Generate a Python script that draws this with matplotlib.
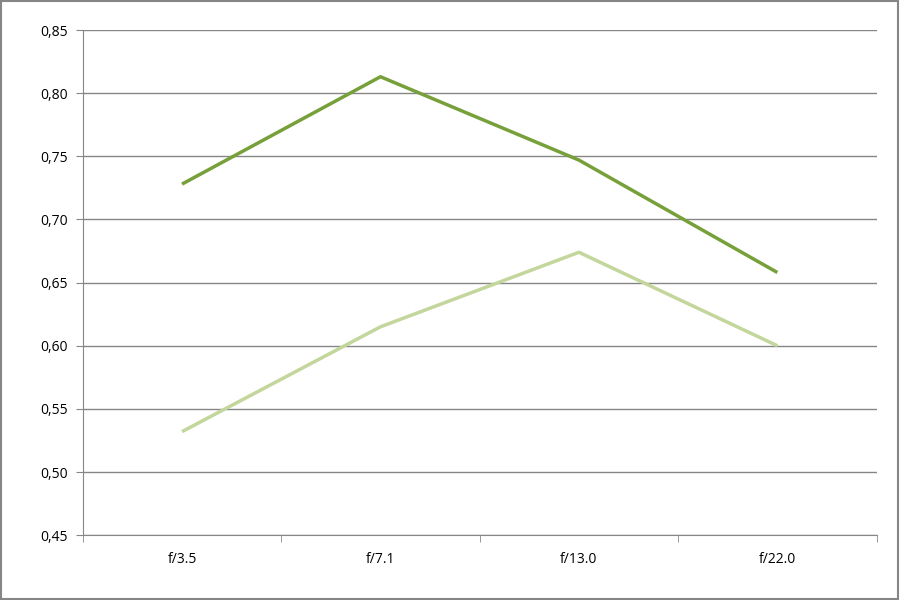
import matplotlib.pyplot as plt
from matplotlib.patches import Rectangle

categories = ["f/3.5", "f/7.1", "f/13.0", "f/22.0"]
series_dark = [0.728, 0.813, 0.747, 0.658]
series_light = [0.532, 0.615, 0.674, 0.600]
yticks = [0.45, 0.50, 0.55, 0.60, 0.65, 0.70, 0.75, 0.80, 0.85]

plt.rcParams['font.family'] = ['Open Sans', 'DejaVu Sans']

fig = plt.figure(figsize=(9, 6), dpi=100)
ax = fig.add_axes([0.092, 0.108, 0.882, 0.842])

x = list(range(len(categories)))
ax.plot(x, series_dark, color="#77A03A", linewidth=2.5, solid_capstyle="butt")
ax.plot(x, series_light, color="#C3D69B", linewidth=2.5, solid_capstyle="butt")

ax.set_xlim(-0.5, len(categories) - 0.5)
ax.set_ylim(0.45, 0.85)
ax.set_yticks(yticks)
ax.set_yticklabels([f"{v:.2f}".replace(".", ",") for v in yticks], fontsize=10)
ax.set_xticks(x)
ax.set_xticklabels(categories, fontsize=10)
ax.tick_params(axis="x", length=0, pad=12)
ax.set_xticks([i - 0.5 for i in range(len(categories) + 1)], minor=True)
ax.tick_params(axis="x", which="minor", length=5, color="#868686", direction="out")
ax.tick_params(axis="y", length=5, color="#868686", pad=6)

ax.grid(axis="y", color="#868686", linewidth=1)
ax.set_axisbelow(True)
for s in ["top", "right"]:
    ax.spines[s].set_visible(False)
ax.spines["left"].set_color("#868686")
ax.spines["bottom"].set_color("#868686")

fig.patches.append(Rectangle((0.001, 0.001), 0.997, 0.997, transform=fig.transFigure,
                             fill=False, edgecolor="#868686", linewidth=1.5))

fig.savefig("out.png", dpi=100)
